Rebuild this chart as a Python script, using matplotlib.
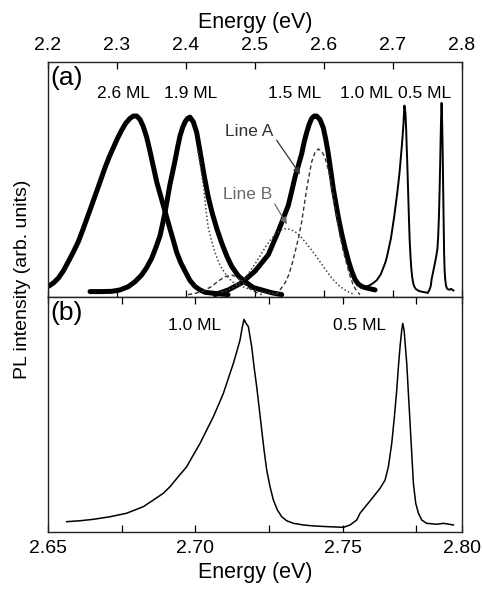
import numpy as np
import matplotlib
matplotlib.use('Agg')
import matplotlib.pyplot as plt

plt.rcParams['font.family'] = ['Liberation Sans', 'DejaVu Sans']

# ---- panel (a) data, energy (eV) / normalised PL ----
e_26 = [2.2004, 2.2080, 2.2149, 2.2220, 2.2294, 2.2365, 2.2439, 2.2510, 2.2584, 2.2645,
        2.2706, 2.2766, 2.2826, 2.2886, 2.2946, 2.3007, 2.3068, 2.3128, 2.3188, 2.3237,
        2.3286, 2.3334, 2.3381, 2.3430, 2.3478, 2.3527, 2.3575, 2.3623, 2.3671, 2.3720,
        2.3768, 2.3817, 2.3865, 2.3925, 2.3986, 2.4058, 2.4130, 2.4203, 2.4275, 2.4420,
        2.4609]
i_26 = [0.045, 0.06, 0.08, 0.11, 0.15, 0.19, 0.235, 0.29, 0.35, 0.40,
        0.45, 0.50, 0.55, 0.595, 0.635, 0.675, 0.71, 0.74, 0.76, 0.77,
        0.77, 0.755, 0.725, 0.68, 0.62, 0.555, 0.49, 0.44, 0.39, 0.34,
        0.29, 0.24, 0.19, 0.145, 0.11, 0.07, 0.045, 0.03, 0.02, 0.015,
        0.01]

e_19 = [2.2609, 2.2770, 2.2923, 2.3044, 2.3164, 2.3261, 2.3358, 2.3430, 2.3503, 2.3563,
        2.3623, 2.3660, 2.3696, 2.3732, 2.3768, 2.3805, 2.3841, 2.3877, 2.3913, 2.3950,
        2.3986, 2.4022, 2.4058, 2.4106, 2.4155, 2.4179, 2.4203, 2.4261, 2.4319, 2.4377,
        2.4447, 2.4517, 2.4590, 2.4662, 2.4758, 2.4855, 2.4976, 2.5097, 2.5242, 2.5387]
i_19 = [0.023, 0.023, 0.024, 0.03, 0.044, 0.065, 0.094, 0.125, 0.165, 0.21,
        0.26, 0.31, 0.36, 0.42, 0.48, 0.53, 0.58, 0.635, 0.685, 0.72,
        0.745, 0.76, 0.765, 0.745, 0.70, 0.66, 0.62, 0.52, 0.43, 0.36,
        0.29, 0.23, 0.175, 0.13, 0.09, 0.065, 0.04, 0.03, 0.018, 0.01]

e_15 = [2.4420, 2.4517, 2.4613, 2.4710, 2.4807, 2.4903, 2.5000, 2.5097, 2.5193, 2.5266,
        2.5338, 2.5411, 2.5483, 2.5532, 2.5580, 2.5629, 2.5677, 2.5713, 2.5749, 2.5786,
        2.5822, 2.5858, 2.5894, 2.5942, 2.5990, 2.6026, 2.6062, 2.6099, 2.6135, 2.6171,
        2.6207, 2.6256, 2.6304, 2.6353, 2.6401, 2.6449, 2.6497, 2.6546, 2.6594, 2.6667,
        2.6740]
i_15 = [0.01, 0.02, 0.03, 0.045, 0.06, 0.085, 0.11, 0.145, 0.18, 0.23,
        0.28, 0.335, 0.39, 0.45, 0.51, 0.56, 0.61, 0.66, 0.70, 0.735,
        0.76, 0.77, 0.77, 0.755, 0.72, 0.67, 0.61, 0.535, 0.46, 0.40,
        0.34, 0.27, 0.21, 0.155, 0.11, 0.075, 0.055, 0.045, 0.04, 0.035,
        0.03]

# fitted components
e_lineA = [2.5290, 2.5339, 2.5387, 2.5435, 2.5483, 2.5532, 2.5580, 2.5629, 2.5677, 2.5713,
           2.5749, 2.5786, 2.5822, 2.5870, 2.5917, 2.5966, 2.6014, 2.6050, 2.6087, 2.6123,
           2.6159, 2.6196, 2.6232, 2.6280, 2.6329, 2.6377, 2.6425, 2.6474, 2.6522]
i_lineA = [0.01, 0.02, 0.04, 0.06, 0.09, 0.135, 0.19, 0.25, 0.32, 0.39,
           0.46, 0.52, 0.575, 0.615, 0.63, 0.62, 0.595, 0.555, 0.51, 0.445,
           0.38, 0.32, 0.26, 0.195, 0.14, 0.09, 0.05, 0.025, 0.01]

e_lineB = [2.4517, 2.4614, 2.4710, 2.4783, 2.4855, 2.4928, 2.5000, 2.5073, 2.5145, 2.5218,
           2.5290, 2.5362, 2.5435, 2.5507, 2.5580, 2.5652, 2.5725, 2.5797, 2.5870, 2.5942,
           2.6014, 2.6087, 2.6159, 2.6232, 2.6304, 2.6377, 2.6449]
i_lineB = [0.02, 0.03, 0.045, 0.06, 0.08, 0.11, 0.14, 0.175, 0.21, 0.24,
           0.265, 0.283, 0.29, 0.288, 0.278, 0.26, 0.235, 0.208, 0.18, 0.15,
           0.12, 0.09, 0.065, 0.045, 0.03, 0.018, 0.01]

e_19dot = [2.4174, 2.4218, 2.4261, 2.4290, 2.4319, 2.4370, 2.4420, 2.4470, 2.4522, 2.4594,
           2.4667, 2.4761, 2.4855, 2.4978, 2.5101, 2.5362]
i_19dot = [0.62, 0.54, 0.455, 0.37, 0.30, 0.24, 0.19, 0.15, 0.12, 0.09,
           0.065, 0.05, 0.04, 0.028, 0.02, 0.013]

e_19dash = [2.4029, 2.4130, 2.4250, 2.4372, 2.4468, 2.4565, 2.4662, 2.4735, 2.4807, 2.4880,
            2.4952, 2.5025, 2.5097]
i_19dash = [0.01, 0.015, 0.025, 0.045, 0.068, 0.086, 0.094, 0.085, 0.065, 0.045,
            0.03, 0.018, 0.01]

# ---- panel (b) data ----
e_10 = [2.65633, 2.66086, 2.66539, 2.67104, 2.67670, 2.68236, 2.68575, 2.68915, 2.69141, 2.69424,
        2.69707, 2.69933, 2.70159, 2.70386, 2.70612, 2.70782, 2.70951, 2.71121, 2.71291, 2.71404,
        2.71517, 2.71596, 2.71653, 2.71721, 2.71800, 2.71856, 2.71913, 2.71992, 2.72083, 2.72162,
        2.72253, 2.72332, 2.72422, 2.72535, 2.72648, 2.72784, 2.72931, 2.73101, 2.73327, 2.73667,
        2.74006, 2.74459, 2.75025]
i_10 = [0.044, 0.048, 0.054, 0.065, 0.080, 0.108, 0.136, 0.165, 0.193, 0.236,
        0.278, 0.328, 0.377, 0.434, 0.491, 0.540, 0.590, 0.654, 0.718, 0.767,
        0.817, 0.874, 0.905, 0.888, 0.874, 0.831, 0.789, 0.704, 0.618, 0.533,
        0.434, 0.349, 0.264, 0.193, 0.136, 0.094, 0.065, 0.048, 0.037, 0.030,
        0.026, 0.023, 0.020]

e_05 = [2.75025, 2.75251, 2.75477, 2.75590, 2.75817, 2.76043, 2.76269, 2.76439, 2.76552, 2.76665,
        2.76756, 2.76835, 2.76892, 2.76948, 2.77005, 2.77039, 2.77084, 2.77129, 2.77175, 2.77231,
        2.77288, 2.77344, 2.77401, 2.77480, 2.77571, 2.77684, 2.77853, 2.78193, 2.78419, 2.78758]
i_05 = [0.020, 0.030, 0.051, 0.080, 0.115, 0.150, 0.186, 0.221, 0.278, 0.377,
        0.491, 0.604, 0.704, 0.789, 0.860, 0.888, 0.860, 0.789, 0.718, 0.590,
        0.462, 0.335, 0.207, 0.122, 0.080, 0.051, 0.037, 0.033, 0.037, 0.030]

scale_10a = 0.90
scale_05a = 0.93

labels_a = ['2.6 ML', '1.9 ML', '1.5 ML', '1.0 ML', '0.5 ML']
label_e_a = [2.310, 2.407, 2.558, 2.662, 2.746]
labels_b = ['1.0 ML', '0.5 ML']
label_e_b = [2.6999, 2.7559]

top_ticks = [2.2, 2.3, 2.4, 2.5, 2.6, 2.7, 2.8]
bot_ticks = [2.65, 2.70, 2.75, 2.7905]
bot_ticklabels = ['2.65', '2.70', '2.75', '2.80']
bot_minor = [2.675, 2.725, 2.775]

fig = plt.figure(figsize=(4.82, 5.91), dpi=100)
axa = fig.add_axes([0.0996, 0.4975, 0.8589, 0.3976])
axb = fig.add_axes([0.0996, 0.0998, 0.8589, 0.3976])

# panel (a)
for e, i in [(e_26, i_26), (e_19, i_19), (e_15, i_15)]:
    axa.plot(e, i, color='black', lw=3.6, solid_joinstyle='round', solid_capstyle='round')
axa.plot(e_10, np.array(i_10) * scale_10a, color='black', lw=1.4)
axa.plot(e_05, np.array(i_05) * scale_05a, color='black', lw=1.4)
axa.plot(e_lineA, i_lineA, color='#333333', lw=1.0, ls=(0, (3, 2)))
axa.plot(e_lineB, i_lineB, color='#444444', lw=1.1, ls=(0, (1, 1.5)))
axa.plot(e_19dot, i_19dot, color='#444444', lw=1.1, ls=(0, (1, 1.5)))
axa.plot(e_19dash, i_19dash, color='#333333', lw=1.0, ls=(0, (3, 2)))

for t, e in zip(labels_a, label_e_a):
    axa.text(e, 0.868, t, ha='center', va='center', fontsize=12.5)
axa.text(0.005, 0.932, '(a)', transform=axa.transAxes, ha='left', va='center', fontsize=19)

axa.text(2.4913, 0.704, 'Line A', ha='center', va='center', fontsize=12.5, color='#333333')
axa.text(2.4891, 0.438, 'Line B', ha='center', va='center', fontsize=12.5, color='#6a6a6a')
axa.annotate('', xy=(2.5677, 0.512), xytext=(2.529, 0.677),
             arrowprops=dict(arrowstyle='-|>', color='#333333', lw=0.9, mutation_scale=10))
axa.annotate('', xy=(2.5483, 0.299), xytext=(2.5265, 0.406),
             arrowprops=dict(arrowstyle='-|>', color='#6a6a6a', lw=0.9, mutation_scale=10))

axa.set_xlim(2.2, 2.8)
axa.set_ylim(0, 1)
axa.set_yticks([])
axa.xaxis.tick_top()
axa.xaxis.set_label_position('top')
axa.set_xticks(top_ticks)
axa.set_xticklabels(['%.1f' % t for t in top_ticks])
axa.tick_params(axis='x', which='both', direction='in', top=True, bottom=True,
                length=5, width=0.9, labelsize=14, pad=6)
axa.set_xlabel('Energy (eV)', fontsize=15.5, labelpad=6)

# panel (b)
axb.plot(e_10, i_10, color='black', lw=1.1)
axb.plot(e_05, i_05, color='black', lw=1.1)
for t, e in zip(labels_b, label_e_b):
    axb.text(e, 0.877, t, ha='center', va='center', fontsize=12.5)
axb.text(0.005, 0.932, '(b)', transform=axb.transAxes, ha='left', va='center', fontsize=19)

axb.set_xlim(2.65, 2.7905)
axb.set_ylim(0, 1)
axb.set_yticks([])
axb.set_xticks(bot_ticks)
axb.set_xticklabels(bot_ticklabels)
axb.set_xticks(bot_minor, minor=True)
axb.tick_params(axis='x', which='both', direction='in', top=True, bottom=True,
                length=5, width=0.9, labelsize=14, pad=6)
axb.set_xlabel('Energy (eV)', fontsize=15.5, labelpad=3)

for ax in (axa, axb):
    for s in ax.spines.values():
        s.set_linewidth(1.0)
        s.set_color('#222222')

fig.text(23 / 482, 1 - 279 / 591, 'PL intensity (arb. units)', rotation=90,
         ha='center', va='center', fontsize=14)

fig.savefig('out.png', dpi=100)
